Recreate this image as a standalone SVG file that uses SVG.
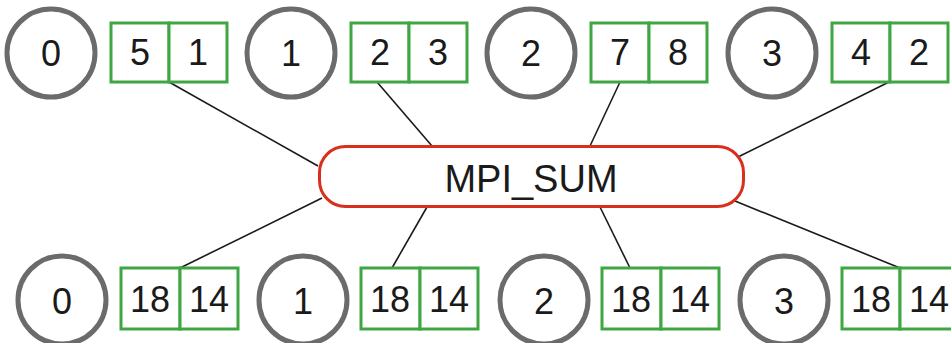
<svg xmlns="http://www.w3.org/2000/svg" width="951" height="343" viewBox="0 0 951 343">
  <style>
    .rank { fill: #ffffff; stroke: #6b6b6b; stroke-width: 5; }
    .cell { fill: #ffffff; stroke: #3ea643; stroke-width: 3; }
    .op { fill: #ffffff; stroke: #d8301c; stroke-width: 3; }
    .link { stroke: #1a1a1a; stroke-width: 1.6; fill: none; }
    text { font-family: "Liberation Sans", Arial, sans-serif; fill: #1a1a1a; text-anchor: middle; }
    .num { font-size: 36px; }
    .lbl { font-size: 38px; }
  </style>
  <rect width="951" height="343" fill="#ffffff"/>

  <!-- connectors between buffers and the reduction op -->
  <g id="connectors">
    <line class="link" x1="169" y1="82" x2="318" y2="166"/>
    <line class="link" x1="377" y1="82" x2="432" y2="146"/>
    <line class="link" x1="620" y1="82" x2="590" y2="146"/>
    <line class="link" x1="889" y1="82" x2="738" y2="157"/>
    <line class="link" x1="322" y1="198" x2="180" y2="268"/>
    <line class="link" x1="427" y1="207" x2="392" y2="268"/>
    <line class="link" x1="600" y1="207" x2="630" y2="268"/>
    <line class="link" x1="735" y1="201" x2="900" y2="268"/>
  </g>

  <!-- reduction operation -->
  <g id="op-sum">
    <rect class="op" x="319.5" y="146.5" width="424" height="60" rx="26"/>
    <text class="lbl" x="531" y="192">MPI_SUM</text>
  </g>

  <!-- send buffers, top row -->
  <g id="rank0-send">
    <circle class="rank" cx="51" cy="53" r="44"/>
    <text class="num" x="51" y="66">0</text>
    <rect class="cell" x="111" y="23" width="58" height="59"/>
    <rect class="cell" x="169" y="23" width="58" height="59"/>
    <text class="num" x="140" y="65">5</text>
    <text class="num" x="198" y="65">1</text>
  </g>
  <g id="rank1-send">
    <circle class="rank" cx="291" cy="53" r="44"/>
    <text class="num" x="291" y="66">1</text>
    <rect class="cell" x="351" y="23" width="58" height="59"/>
    <rect class="cell" x="409" y="23" width="58" height="59"/>
    <text class="num" x="380" y="65">2</text>
    <text class="num" x="438" y="65">3</text>
  </g>
  <g id="rank2-send">
    <circle class="rank" cx="531" cy="53" r="44"/>
    <text class="num" x="531" y="66">2</text>
    <rect class="cell" x="591" y="23" width="58" height="59"/>
    <rect class="cell" x="649" y="23" width="58" height="59"/>
    <text class="num" x="620" y="65">7</text>
    <text class="num" x="678" y="65">8</text>
  </g>
  <g id="rank3-send">
    <circle class="rank" cx="772" cy="53" r="44"/>
    <text class="num" x="772" y="66">3</text>
    <rect class="cell" x="832" y="23" width="58" height="59"/>
    <rect class="cell" x="890" y="23" width="58" height="59"/>
    <text class="num" x="861" y="65">4</text>
    <text class="num" x="919" y="65">2</text>
  </g>

  <!-- receive buffers, bottom row -->
  <g id="rank0-recv">
    <circle class="rank" cx="62" cy="300" r="44"/>
    <text class="num" x="62" y="314">0</text>
    <rect class="cell" x="121" y="268" width="59" height="61"/>
    <rect class="cell" x="180" y="268" width="58" height="61"/>
    <text class="num" x="150" y="312">18</text>
    <text class="num" x="209" y="312">14</text>
  </g>
  <g id="rank1-recv">
    <circle class="rank" cx="303" cy="300" r="44"/>
    <text class="num" x="303" y="314">1</text>
    <rect class="cell" x="361" y="268" width="59" height="61"/>
    <rect class="cell" x="420" y="268" width="58" height="61"/>
    <text class="num" x="390" y="312">18</text>
    <text class="num" x="449" y="312">14</text>
  </g>
  <g id="rank2-recv">
    <circle class="rank" cx="544" cy="300" r="44"/>
    <text class="num" x="544" y="314">2</text>
    <rect class="cell" x="602" y="268" width="59" height="61"/>
    <rect class="cell" x="661" y="268" width="58" height="61"/>
    <text class="num" x="631" y="312">18</text>
    <text class="num" x="690" y="312">14</text>
  </g>
  <g id="rank3-recv">
    <circle class="rank" cx="784" cy="300" r="44"/>
    <text class="num" x="784" y="314">3</text>
    <rect class="cell" x="842" y="268" width="58" height="61"/>
    <rect class="cell" x="900" y="268" width="58" height="61"/>
    <text class="num" x="871" y="312">18</text>
    <text class="num" x="929" y="312">14</text>
  </g>
</svg>
